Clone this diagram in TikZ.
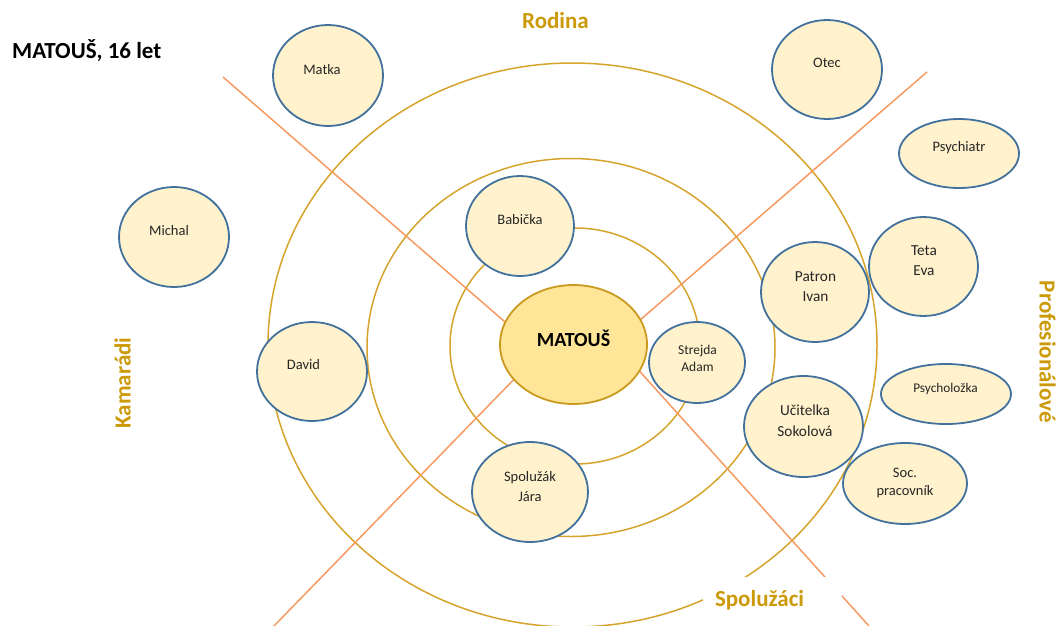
\documentclass[tikz,border=0pt]{standalone}
\usepackage{fontspec}
\setmainfont{Carlito}
\usetikzlibrary{shapes.geometric}
\definecolor{ringcol}{HTML}{D6A32C}
\definecolor{linecol}{HTML}{F79A62}
\definecolor{nodeblue}{HTML}{41719C}
\definecolor{nodefill}{HTML}{FFF2CC}
\definecolor{mainfill}{HTML}{FFE597}
\definecolor{mainborder}{HTML}{C99A1E}
\definecolor{labelgold}{HTML}{CC9A08}
\definecolor{txtcol}{HTML}{262626}
\begin{document}
\begin{tikzpicture}[x=1pt,y=-1pt,
  ring/.style={ellipse, draw=ringcol, line width=1.5pt, inner sep=0pt},
  divider/.style={draw=linecol, line width=1.5pt},
  person/.style={ellipse, draw=nodeblue, fill=nodefill, line width=1.8pt, inner sep=0pt},
  mainnode/.style={ellipse, draw=mainborder, fill=mainfill, line width=1.8pt, inner sep=0pt},
  ptext/.style={font=\fontsize{14.5}{20}\selectfont, text=txtcol, align=center, inner sep=0pt},
  grouplabel/.style={font=\bfseries\fontsize{23}{28}\selectfont, text=labelgold, inner sep=0pt, text height=15pt, text depth=0pt}]
\useasboundingbox (0,0) rectangle (1058,625);

% rings
\node[ring, minimum width=609pt, minimum height=564pt] (ring3) at (572.5,345) {};
\node[ring, minimum width=408pt, minimum height=378pt] (ring2) at (571,347.5) {};
\node[ring, minimum width=250pt, minimum height=236pt] (ring1) at (575,346) {};

% dividing lines
\coordinate (ulA) at (223,77);   \coordinate (ulB) at (520,335);
\coordinate (urA) at (927,72);   \coordinate (urB) at (625,333);
\coordinate (llA) at (272,628);  \coordinate (llB) at (525,368);
\coordinate (lrA) at (869,626);  \coordinate (lrB) at (625,355);
\draw[divider] (ulA) -- (ulB);
\draw[divider] (urA) -- (urB);
\draw[divider] (llA) -- (llB);
\draw[divider] (lrA) -- (lrB);

% group labels
\node[grouplabel] (rodina) at (555.5,21) {Rodina};
\node[grouplabel, rotate=90] (kamaradi) at (123,383) {Kamarádi};
\node[grouplabel, rotate=-90] (prof) at (1047,352) {Profesionálové};
\node[grouplabel, fill=white, text depth=4pt, minimum width=139pt, minimum height=48pt,
      text width=115pt, align=left, inner xsep=12pt] (spoluzaci) at (772.5,601) {Spolužáci};

% title
\node[font=\bfseries\fontsize{23}{28}\selectfont, text=black, inner sep=0pt,
      text height=15pt, text depth=0pt, anchor=west] (title) at (12,50.5) {MATOUŠ, 16 let};

% centre
\node[mainnode, minimum width=147pt, minimum height=119pt] (matous) at (573.5,344.5) {};
\node[font=\bfseries\fontsize{20}{24}\selectfont, text=black, inner sep=0pt] (matous-t) at (573.5,338) {MATOUŠ};

% persons
\node[person, minimum width=110pt, minimum height=101pt] (matka) at (328,75.5) {};
\node[ptext] (matka-t) at (322,70) {Matka};
\node[person, minimum width=110pt, minimum height=99pt] (otec) at (827,69.5) {};
\node[ptext] (otec-t) at (827,63) {Otec};
\node[person, minimum width=120pt, minimum height=69pt] (psychiatr) at (959,153.5) {};
\node[ptext] (psychiatr-t) at (959,148) {Psychiatr};
\node[person, minimum width=110pt, minimum height=100pt] (michal) at (174,237) {};
\node[ptext] (michal-t) at (169,231) {Michal};
\node[person, minimum width=108pt, minimum height=100pt] (babicka) at (520,226) {};
\node[ptext] (babicka-t) at (520,220) {Babička};
\node[person, minimum width=108pt, minimum height=100pt] (patron) at (815,292) {};
\node[ptext, font=\fontsize{15.3}{20}\selectfont] (patron-t) at (815.5,287) {Patron\\Ivan};
\node[person, minimum width=109pt, minimum height=99pt] (teta) at (923.5,266.5) {};
\node[ptext, font=\fontsize{15.3}{20}\selectfont] (teta-t) at (924,261) {Teta\\Eva};
\node[person, minimum width=96pt, minimum height=81pt] (strejda) at (697,362.5) {};
\node[ptext, font=\fontsize{13.5}{17}\selectfont] (strejda-t) at (697.5,358) {Strejda\\Adam};
\node[person, minimum width=110pt, minimum height=99pt] (david) at (312,371.5) {};
\node[ptext] (david-t) at (303.5,365) {David};
\node[person, minimum width=116pt, minimum height=100pt] (jara) at (530,492) {};
\node[ptext] (jara-t) at (530,487) {Spolužák\\Jára};
\node[person, minimum width=119pt, minimum height=101pt] (ucitelka) at (803.5,426.5) {};
\node[ptext, font=\fontsize{15.3}{21}\selectfont] (ucitelka-t) at (805,421) {Učitelka\\Sokolová};
\node[person, minimum width=130pt, minimum height=60pt] (psycholozka) at (946,394) {};
\node[ptext, font=\fontsize{13.3}{17}\selectfont] (psycholozka-t) at (945.5,388.5) {Psycholožka};
\node[person, minimum width=124pt, minimum height=81pt] (soc) at (905,483.5) {};
\node[ptext, font=\fontsize{14.5}{18}\selectfont] (soc-t) at (905,482.5) {Soc.\\pracovník};
\end{tikzpicture}
\end{document}
